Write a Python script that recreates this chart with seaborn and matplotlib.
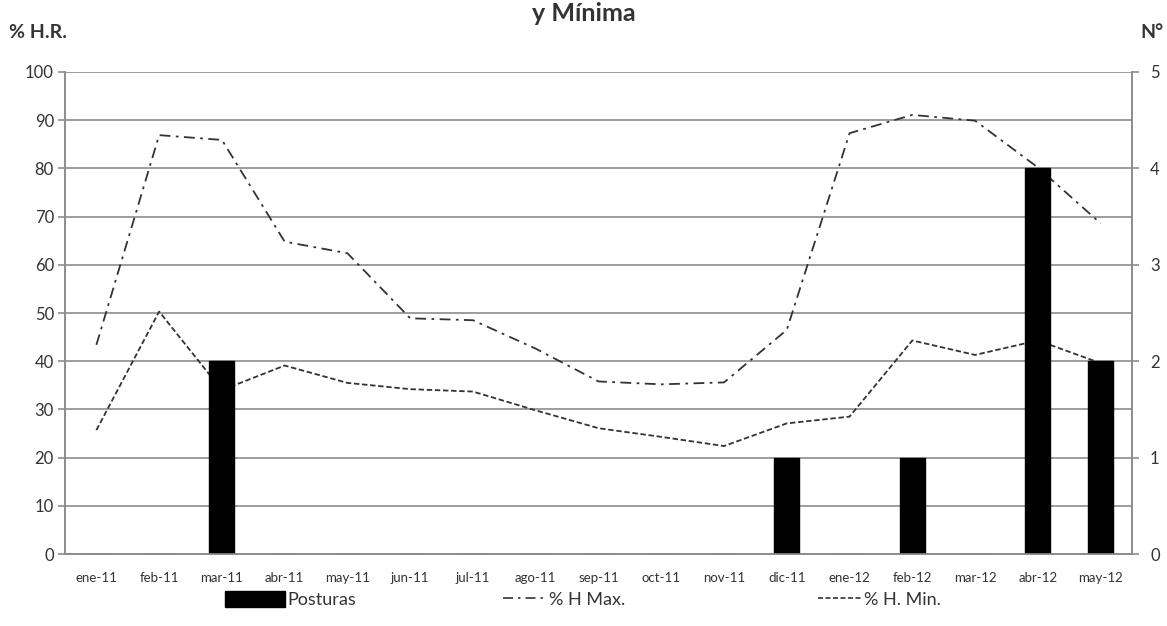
import numpy as np
import seaborn as sns
import matplotlib.pyplot as plt
from matplotlib.patches import Patch
from matplotlib.lines import Line2D

sns.set_style('white')
plt.rcParams['font.family'] = ['Lato', 'DejaVu Sans']

# data
meses = ['ene-11', 'feb-11', 'mar-11', 'abr-11', 'may-11', 'jun-11', 'jul-11',
         'ago-11', 'sep-11', 'oct-11', 'nov-11', 'dic-11', 'ene-12', 'feb-12',
         'mar-12', 'abr-12', 'may-12']
hr_max = [43.4, 86.9, 85.9, 64.8, 62.4, 48.9, 48.5, 42.6, 35.8, 35.2, 35.6,
          46.5, 87.3, 91.1, 89.9, 80.2, 68.6]
hr_min = [25.7, 50.3, 34.0, 39.1, 35.5, 34.2, 33.7, 29.8, 26.1, 24.3, 22.4,
          27.1, 28.5, 44.3, 41.3, 44.3, 39.6]
posturas = [0, 0, 2, 0, 0, 0, 0, 0, 0, 0, 0, 1, 0, 1, 0, 4, 2]

pos = np.arange(len(meses))
grey = '#8c8c8c'
ink = '#333333'

fig = plt.figure(figsize=(11.67, 6.26), dpi=100)
ax1 = fig.add_axes([0.0557, 0.115, 0.9143, 0.77])
ax2 = ax1.twinx()

# lines (left axis)
sns.lineplot(x=pos, y=hr_max, ax=ax1, color=ink, linewidth=1.3)
sns.lineplot(x=pos, y=hr_min, ax=ax1, color=ink, linewidth=1.3)
ax1.lines[0].set_dashes([6, 3, 1.5, 3])
ax1.lines[1].set_dashes([3, 1.5])

# bars (right axis)
sns.barplot(x=meses, y=posturas, ax=ax2, color='black', width=0.4,
            saturation=1, edgecolor='black')

ax1.set_ylim(0, 100)
ax1.set_yticks(range(0, 101, 10))
ax1.grid(axis='y', color=grey, linewidth=1.2)
ax1.set_axisbelow(True)
ax2.set_ylim(0, 5)
ax2.set_yticks(range(0, 6))
ax1.set_xlim(-0.5, len(meses) - 0.5)
ax2.set_xlim(-0.5, len(meses) - 0.5)

ax2.set_xticks(pos)
ax2.set_xticklabels(meses)
ax1.set_xticks(pos)
ax1.set_xticklabels(meses, fontsize=9.5, color=ink)
ax1.set_xticks(np.arange(-0.5, len(meses), 1), minor=True)
ax1.tick_params(axis='x', which='major', length=0, pad=13)
ax1.tick_params(axis='x', which='minor', length=5, color=grey, width=1.2)
ax1.tick_params(axis='y', length=5, color=grey, width=1.2, labelsize=12,
                labelcolor=ink, pad=3, left=True)
ax2.tick_params(axis='y', length=5, color=grey, width=1.2, labelsize=12,
                labelcolor=ink, pad=8, right=True)
ax2.tick_params(axis='x', length=0)
ax1.set_xlabel('')
ax2.set_xlabel('')
ax1.set_ylabel('')
ax2.set_ylabel('')

for ax in (ax1, ax2):
    ax.spines['top'].set_visible(False)
    for s in ('left', 'right', 'bottom'):
        ax.spines[s].set_color(grey)
        ax.spines[s].set_linewidth(1.2)

fig.text(0.5, 0.978, 'y Mínima', ha='center', va='center', fontsize=18,
         fontweight='bold', color=ink)
fig.text(0.008, 0.948, '% H.R.', ha='left', va='center', fontsize=14,
         fontweight='bold', color=ink)
fig.text(0.977, 0.948, 'N°', ha='left', va='center', fontsize=14,
         fontweight='bold', color=ink)

# legend entries placed one by one, as in the original
entradas = [
    (Patch(facecolor='black', edgecolor='black'), 'Posturas', 0.193, 3.3),
    (Line2D([], [], color=ink, linewidth=1.2, dashes=[6, 3, 1.5, 3]),
     '% H Max.', 0.431, 2.4),
    (Line2D([], [], color=ink, linewidth=1.2, dashes=[3, 1.5]),
     '% H. Min.', 0.701, 2.4),
]
for h, txt, x0, hl in entradas:
    fig.legend([h], [txt], loc='center left', bbox_to_anchor=(x0, 0.042),
               frameon=False, fontsize=13, handlelength=hl, handleheight=1.0,
               handletextpad=0.15, borderpad=0, borderaxespad=0,
               labelcolor=ink)

fig.savefig('out.png', dpi=100)
